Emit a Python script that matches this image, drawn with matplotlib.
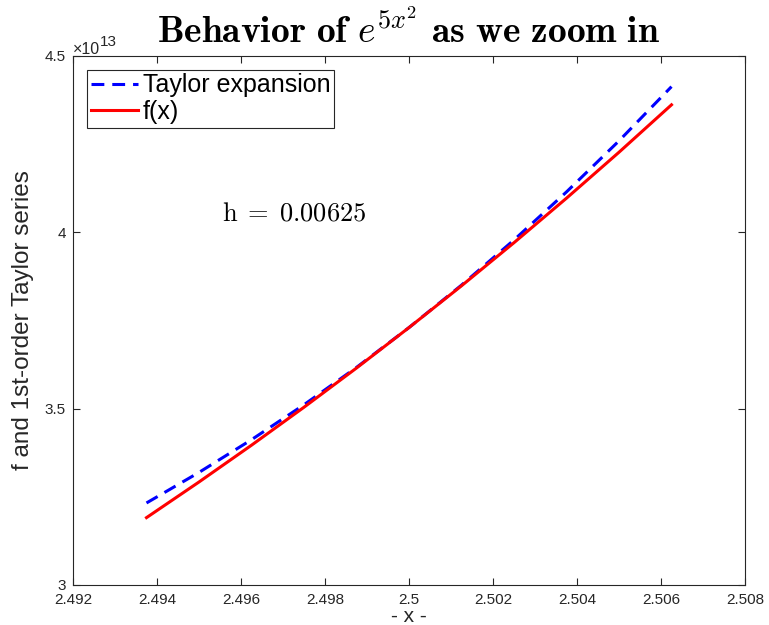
import matplotlib
matplotlib.use('Agg')
import matplotlib.pyplot as plt
from matplotlib.ticker import FixedLocator, FuncFormatter

# values (y in units of 1e13)
x = [2.49375, 2.495, 2.49625, 2.4975, 2.49875, 2.5,
     2.50125, 2.5025, 2.50375, 2.505, 2.50625]
f_x = [3.19101, 3.29208, 3.39640, 3.50407, 3.61522, 3.72995,
       3.84838, 3.97063, 4.09684, 4.22712, 4.36160]
taylor = [3.23260, 3.31926, 3.41202, 3.51117, 3.61703, 3.72995,
          3.85027, 3.97836, 4.11461, 4.25940, 4.41315]
xticks = [2.492, 2.494, 2.496, 2.498, 2.5, 2.502, 2.504, 2.506, 2.508]
yticks = [3, 3.5, 4, 4.5]

plt.rcParams['mathtext.fontset'] = 'cm'
plt.rcParams['font.family'] = ['Liberation Sans', 'DejaVu Sans']

W, H = 769, 625
fig = plt.figure(figsize=(W / 100, H / 100), dpi=100)
ax = fig.add_axes([73 / W, 40 / H, 672 / W, 529 / H])

ax.plot(x, taylor, color='#0000ff', lw=2.2, ls='--', dashes=(4.2, 2.6),
        label='Taylor expansion')
ax.plot(x, f_x, color='#ff0000', lw=2.2, label='f(x)')

ax.set_xlim(2.492, 2.508)
ax.set_ylim(3, 4.5)
ax.xaxis.set_major_locator(FixedLocator(xticks))
ax.yaxis.set_major_locator(FixedLocator(yticks))
ax.xaxis.set_major_formatter(FuncFormatter(lambda v, p: '%g' % v))
ax.yaxis.set_major_formatter(FuncFormatter(lambda v, p: '%g' % v))
ax.tick_params(direction='in', top=True, right=True, length=5, width=0.8,
               labelsize=11, colors='#262626')
ax.tick_params(axis='x', pad=6)
ax.tick_params(axis='y', pad=5)
for s in ax.spines.values():
    s.set_linewidth(0.8)
    s.set_color('#262626')

# exponent label, MATLAB style
fig.text(73 / W, (H - 54) / H, '×10', fontsize=11.5, color='#262626',
         ha='left', va='baseline')
fig.text(100 / W, (H - 46) / H, '13', fontsize=11, color='#262626',
         ha='left', va='baseline')

ax.set_xlabel('- x -', fontsize=15, color='#262626', labelpad=0)
ax.set_ylabel('f and 1st-order Taylor series', fontsize=17.5,
              color='#262626', labelpad=8)
ax.set_title(r'$\mathbf{Behavior\ of}\ e^{5x^2}\ \mathbf{as\ we\ zoom\ in}$',
             fontsize=27, pad=9)

ax.text(2.49555, 4.052, r'$\mathrm{h}\;=\;0.00625$', fontsize=19,
        ha='left', va='center')

leg = ax.legend(loc='upper left', fontsize=18, frameon=True, fancybox=False,
                edgecolor='#262626', framealpha=1, borderpad=0.15,
                labelspacing=0.1, handlelength=1.9, handletextpad=0.2,
                borderaxespad=0.55)
leg.get_frame().set_linewidth(0.8)

fig.savefig('out.png', dpi=100)
